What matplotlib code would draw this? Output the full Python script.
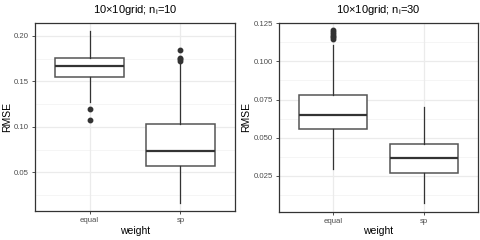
import matplotlib
matplotlib.use("Agg")
import matplotlib.pyplot as plt
import numpy as np

categories = ["equal", "sp"]

# panel 1: n_i = 10  (whislo, q1, med, q3, whishi)
p1_stats = {
    "equal": [0.127, 0.1547, 0.1665, 0.176, 0.205],
    "sp": [0.016, 0.057, 0.0737, 0.103, 0.170],
}
p1_fliers = {
    "equal": [0.1196, 0.108],
    "sp": [0.184, 0.176, 0.174, 0.172],
}
# panel 2: n_i = 30
p2_stats = {
    "equal": [0.0292, 0.0559, 0.065, 0.0781, 0.1105],
    "sp": [0.0069, 0.027, 0.0365, 0.0456, 0.0702],
}
p2_fliers = {
    "equal": [0.1204, 0.119, 0.118, 0.117, 0.116, 0.115],
    "sp": [],
}
p1_ticks = [0.05, 0.10, 0.15, 0.20]
p1_ticklabels = ["0.05", "0.10", "0.15", "0.20"]
p2_ticks = [0.025, 0.050, 0.075, 0.100, 0.125]
p2_ticklabels = ["0.025", "0.050", "0.075", "0.100", "0.125"]

titles = [r"10$\times$10grid; n$_i$=10", r"10$\times$10grid; n$_i$=30"]

plt.rcParams["font.family"] = ["Liberation Sans", "DejaVu Sans"]
plt.rcParams["mathtext.fontset"] = "custom"
plt.rcParams["mathtext.rm"] = "Liberation Sans"
plt.rcParams["mathtext.it"] = "Liberation Sans"

fig = plt.figure(figsize=(4.8, 2.4), dpi=100)
ax1 = fig.add_axes([0.0729, 0.121, 0.4167, 0.783])
ax2 = fig.add_axes([0.581, 0.118, 0.415, 0.788])


def draw(ax, stats, fliers, ylim, ticks, ticklabels, title):
    bxp_stats = []
    for c in categories:
        lo, q1, med, q3, hi = stats[c]
        bxp_stats.append(dict(whislo=lo, q1=q1, med=med, q3=q3, whishi=hi,
                              fliers=fliers[c], label=c))
    ax.bxp(bxp_stats, positions=[1, 2], widths=0.75, patch_artist=True,
           showcaps=False,
           boxprops=dict(facecolor="white", edgecolor="#555555", linewidth=1.1),
           medianprops=dict(color="#333333", linewidth=1.6),
           whiskerprops=dict(color="#333333", linewidth=0.9),
           flierprops=dict(marker="o", markerfacecolor="#333333",
                           markeredgecolor="#333333", markersize=3.2),
           zorder=3)
    ax.set_xlim(0.4, 2.6)
    ax.set_ylim(*ylim)
    ax.set_yticks(ticks)
    ax.set_yticklabels(ticklabels)
    minors = []
    step = ticks[1] - ticks[0]
    m = ticks[0] - step / 2
    while m < ylim[1]:
        if m > ylim[0]:
            minors.append(m)
        m += step
    for y in minors:
        ax.axhline(y, color="#f2f2f2", linewidth=0.5, zorder=0)
    for y in ticks:
        ax.axhline(y, color="#ebebeb", linewidth=0.9, zorder=0)
    for x in [1, 2]:
        ax.axvline(x, color="#ebebeb", linewidth=0.9, zorder=0)
    ax.set_xticks([1, 2])
    ax.set_xticklabels(categories)
    ax.tick_params(axis="both", labelsize=5.6, labelcolor="#4d4d4d",
                   color="#333333", length=2.5, width=0.6, pad=2)
    for s in ax.spines.values():
        s.set_color("#333333")
        s.set_linewidth(0.9)
    ax.set_xlabel("weight", fontsize=7.5, labelpad=1)
    ax.set_ylabel("RMSE", fontsize=7.5, labelpad=1.5)
    ax.set_title(title, fontsize=8, pad=7)


draw(ax1, p1_stats, p1_fliers, (0.0075, 0.214), p1_ticks, p1_ticklabels, titles[0])
draw(ax2, p2_stats, p2_fliers, (0.0014, 0.1255), p2_ticks, p2_ticklabels, titles[1])

fig.savefig("out.png", dpi=100)
